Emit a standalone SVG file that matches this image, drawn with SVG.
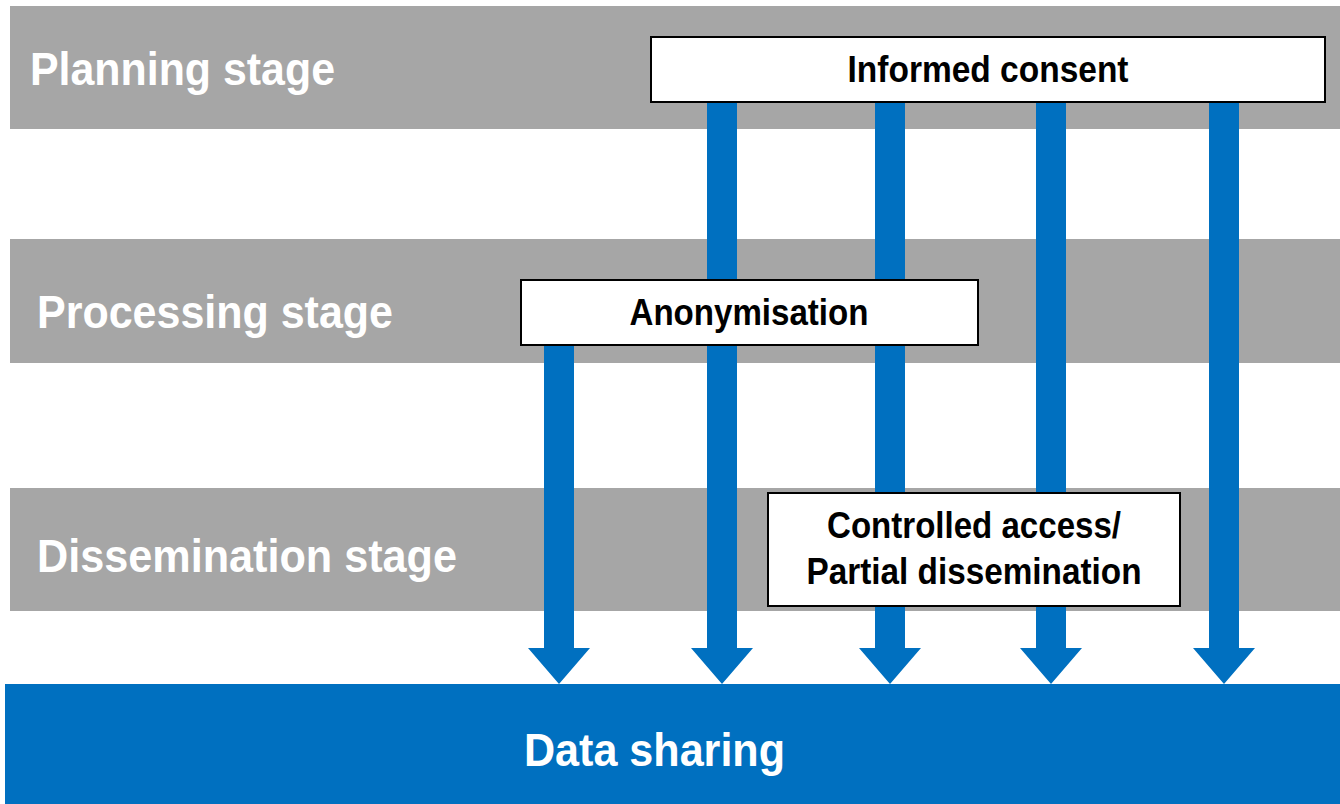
<svg xmlns="http://www.w3.org/2000/svg" width="1340" height="804" viewBox="0 0 1340 804">
<style>
.band{fill:#A6A6A6}
.stage{font-family:"Liberation Sans",Arial,sans-serif;font-weight:bold;font-size:47px;fill:#FFFFFF}
.box{fill:#FFFFFF;stroke:#000000;stroke-width:2}
.lbl{font-family:"Liberation Sans",Arial,sans-serif;font-weight:bold;font-size:37px;fill:#000000;text-anchor:middle}
.arrow{fill:#0070C0}
</style>
<rect width="1340" height="804" fill="#FFFFFF"/>
<g id="bands">
<rect class="band" x="10" y="6" width="1330" height="123"/>
<rect class="band" x="10" y="239" width="1330" height="124"/>
<rect class="band" x="10" y="488" width="1330" height="123"/>
</g>
<g id="stage-labels">
<text class="stage" x="30" y="85" textLength="305" lengthAdjust="spacingAndGlyphs">Planning stage</text>
<text class="stage" x="37" y="328" textLength="356" lengthAdjust="spacingAndGlyphs">Processing stage</text>
<text class="stage" x="37" y="572" textLength="420" lengthAdjust="spacingAndGlyphs">Dissemination stage</text>
</g>
<g id="data-sharing">
<rect x="5" y="684" width="1335" height="120" fill="#0070C0"/>
<text class="stage" x="524" y="766" textLength="261" lengthAdjust="spacingAndGlyphs">Data sharing</text>
</g>
<g id="connectors">
<polygon class="arrow" points="544,345 574,345 574,648 590,648 559,684 528,648 544,648"/>
<polygon class="arrow" points="707,102 737,102 737,648 753,648 722,684 691,648 707,648"/>
<polygon class="arrow" points="875,102 905,102 905,648 921,648 890,684 859,648 875,648"/>
<polygon class="arrow" points="1036,102 1066,102 1066,648 1082,648 1051,684 1020,648 1036,648"/>
<polygon class="arrow" points="1209,102 1239,102 1239,648 1255,648 1224,684 1193,648 1209,648"/>
</g>
<g id="informed-consent">
<rect class="box" x="651" y="37" width="674" height="65"/>
<text class="lbl" x="988" y="82" textLength="281" lengthAdjust="spacingAndGlyphs">Informed consent</text>
</g>
<g id="anonymisation">
<rect class="box" x="521" y="280" width="457" height="65"/>
<text class="lbl" x="749" y="325" textLength="239" lengthAdjust="spacingAndGlyphs">Anonymisation</text>
</g>
<g id="controlled-access">
<rect class="box" x="768" y="493" width="412" height="113"/>
<text class="lbl" x="974" y="538" textLength="294" lengthAdjust="spacingAndGlyphs">Controlled access/</text>
<text class="lbl" x="974" y="584" textLength="335" lengthAdjust="spacingAndGlyphs">Partial dissemination</text>
</g>
</svg>
